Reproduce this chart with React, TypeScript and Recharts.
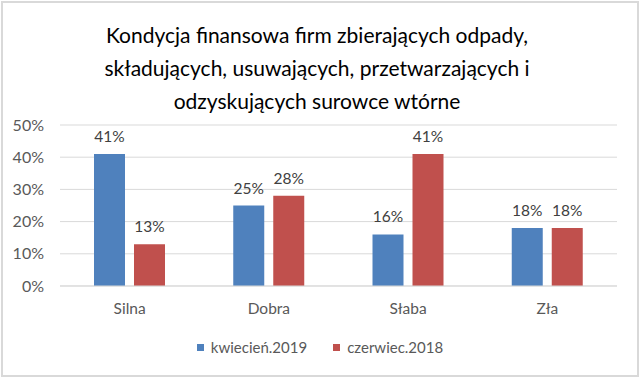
import { Bar, BarChart, CartesianGrid, LabelList, XAxis, YAxis } from "recharts";

const categories = ["Silna", "Dobra", "Słaba", "Zła"];
const april2019 = [0.41, 0.25, 0.16, 0.18];
const june2018 = [0.13, 0.28, 0.41, 0.18];
const yTicks = [0, 0.1, 0.2, 0.3, 0.4, 0.5];

const SERIES = [
  { key: "kw", name: "kwiecień.2019", color: "#4F81BD" },
  { key: "cz", name: "czerwiec.2018", color: "#C0504D" },
];

const TITLE_LINES = [
  "Kondycja finansowa firm zbierających odpady,",
  "składujących, usuwających, przetwarzających i",
  "odzyskujących surowce wtórne",
];

const FONT = "Lato, 'Noto Sans', sans-serif";

const pct = (v: number) => `${Math.round(v * 100)}%`;

export default function App() {
  const data = categories.map((c, i) => ({
    name: c,
    kw: april2019[i],
    cz: june2018[i],
  }));

  return (
    <div
      style={{
        position: "fixed",
        left: 0,
        top: 0,
        width: 640,
        height: 377,
        background: "#fff",
        fontFamily: FONT,
      }}
    >
      <div
        style={{
          position: "absolute",
          left: 1,
          top: 1,
          width: 634,
          height: 372,
          border: "2px solid #d9d9d9",
        }}
      />
      <div
        style={{
          position: "absolute",
          left: 0,
          top: 18,
          width: 634,
          textAlign: "center",
          fontSize: 21,
          lineHeight: "33px",
          color: "#000",
        }}
      >
        {TITLE_LINES.map((l) => (
          <div key={l}>{l}</div>
        ))}
      </div>

      <div style={{ position: "absolute", left: 0, top: 0 }}>
        <BarChart
          width={640}
          height={377}
          data={data}
          margin={{ top: 125, right: 23, bottom: 61, left: 0 }}
          barSize={31}
          barGap={9}
        >
          <CartesianGrid vertical={false} stroke="#d9d9d9" />
          <XAxis
            dataKey="name"
            axisLine={{ stroke: "#d9d9d9" }}
            tickLine={false}
            tickMargin={11}
            height={30}
            tick={{ fill: "#595959", fontSize: 15.5, fontFamily: FONT }}
          />
          <YAxis
            width={60}
            domain={[0, 0.5]}
            ticks={yTicks}
            tickFormatter={pct}
            axisLine={false}
            tickLine={false}
            tickMargin={10}
            tick={{ fill: "#595959", fontSize: 16, fontFamily: FONT }}
          />
          {SERIES.map((s) => (
            <Bar key={s.key} dataKey={s.key} name={s.name} fill={s.color} isAnimationActive={false}>
              <LabelList
                dataKey={s.key}
                position="top"
                offset={12}
                formatter={(v: number) => pct(v)}
                style={{ fill: "#404040", fontSize: 15.5, fontFamily: FONT }}
              />
            </Bar>
          ))}
        </BarChart>
      </div>

      <div
        style={{
          position: "absolute",
          left: 0,
          top: 338,
          width: 640,
          display: "flex",
          justifyContent: "center",
          gap: 26,
          fontSize: 15,
          color: "#595959",
          lineHeight: "18px",
        }}
      >
        {SERIES.map((s) => (
          <div key={s.key} style={{ display: "flex", alignItems: "center", gap: 7 }}>
            <span style={{ width: 7, height: 7, background: s.color, display: "inline-block" }} />
            <span>{s.name}</span>
          </div>
        ))}
      </div>
    </div>
  );
}
